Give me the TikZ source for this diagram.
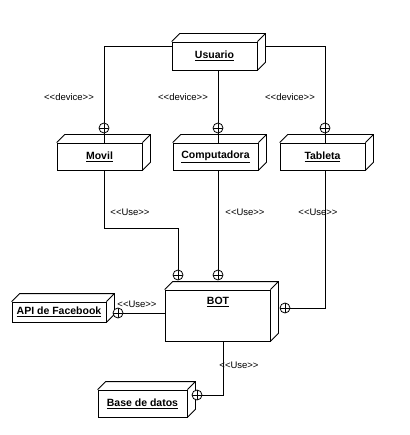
\documentclass[tikz,border=0pt]{standalone}
\usepackage{fontspec}
\setmainfont{Liberation Sans}
\begin{document}
\begin{tikzpicture}[x=1pt,y=-1pt,
  box/.style={draw,thick,fill=white,inner sep=0pt,font=\fontsize{10.5}{12}\selectfont\bfseries},
  ball/.style={circle,draw,thick,fill=white,minimum size=10pt,inner sep=0pt,
    path picture={\draw[thick] (path picture bounding box.north) -- (path picture bounding box.south)
      (path picture bounding box.west) -- (path picture bounding box.east);}},
  lbl/.style={font=\fontsize{9.5}{11}\selectfont,inner sep=1pt},
  conn/.style={thick}]
\useasboundingbox (0,0) rectangle (409,435);
% boxes
\node[box,minimum width=85pt,minimum height=28pt] (usuario) at (214.5,56) {\underline{Usuario}};
\node[box,minimum width=85pt,minimum height=27pt] (movil) at (99.5,156.5) {\underline{Movil}};
\node[box,minimum width=85pt,minimum height=27pt] (comp) at (215.5,156.5) {\underline{Computadora}};
\node[box,minimum width=85pt,minimum height=27pt] (tableta) at (322.5,156.5) {\underline{Tableta}};
\node[box,minimum width=105pt,minimum height=51pt] (bot) at (217.5,315.5) {};
\node[font=\fontsize{10.5}{12}\selectfont\bfseries] (bottxt) at (218,302) {\underline{BOT}};
\node[box,minimum width=94pt,minimum height=20pt] (api) at (59,312) {\underline{API de Facebook}};
\node[box,minimum width=89pt,minimum height=27pt] (base) at (142.5,403.5) {\underline{Base de datos}};
% 3D faces
\foreach \n in {usuario,movil,comp,tableta,bot,api,base}{
  \draw[thick] (\n.north west) -- ++(8,-8) -- ([shift={(8pt,8pt)}]\n.north east)
     -- ([shift={(8pt,8pt)}]\n.south east) -- (\n.south east)
     (\n.north east) -- ++(8,-8);
}
% circles
\node[ball] (cm) at (104,128) {};
\node[ball] (cc) at (218,128) {};
\node[ball] (ct) at (325,128) {};
\node[ball] (cb1) at (178,275) {};
\node[ball] (cb2) at (218,275) {};
\node[ball] (cbr) at (285,308) {};
\node[ball] (ca) at (118,313) {};
\node[ball] (cd) at (197,395) {};
% connectors
\draw[conn] ([yshift=10pt]usuario.west) -| (cm.north);
\draw[conn] ([yshift=10pt,xshift=8pt]usuario.east) -| (ct.north);
\draw[conn] (usuario.south -| cc) -- (cc.north);
\draw[conn] (cm.south) -- (cm.south |- movil.north);
\draw[conn] (cc.south) -- (cc.south |- comp.north);
\draw[conn] (ct.south) -- (ct.south |- tableta.north);
\draw[conn] (movil.south -| cm) -- ++(0,58) -| (cb1.north);
\draw[conn] (comp.south -| cc) -- (cb2.north);
\draw[conn] (tableta.south -| ct) |- (cbr.east);
\draw[conn] (ca.east) -- (ca.east -| bot.west);
\draw[conn] (cd.east) -| ([xshift=5.5pt]bot.south);
% labels
\node[lbl] (l1) at (69,97) {{<}{<}device{>}{>}};
\node[lbl] (l2) at (183,97) {{<}{<}device{>}{>}};
\node[lbl] (l3) at (290,97) {{<}{<}device{>}{>}};
\node[lbl] (l4) at (130,212) {{<}{<}Use{>}{>}};
\node[lbl] (l5) at (245,212) {{<}{<}Use{>}{>}};
\node[lbl] (l6) at (318,212) {{<}{<}Use{>}{>}};
\node[lbl] (l7) at (137,304) {{<}{<}Use{>}{>}};
\node[lbl] (l8) at (239,365) {{<}{<}Use{>}{>}};
\end{tikzpicture}
\end{document}
